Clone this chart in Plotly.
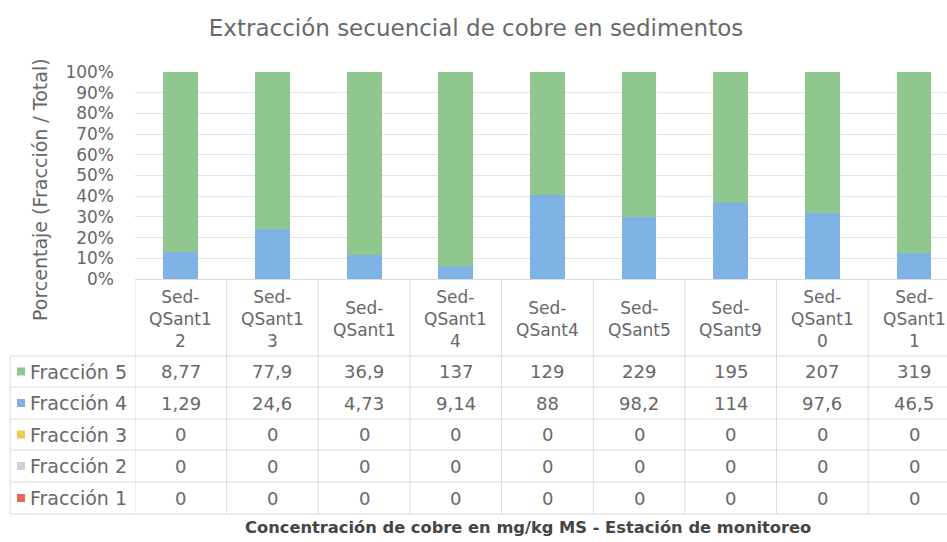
import plotly.graph_objects as go

# ---------------- data ----------------
categories = ["Sed-QSant12", "Sed-QSant13", "Sed-QSant1", "Sed-QSant14", "Sed-QSant4",
              "Sed-QSant5", "Sed-QSant9", "Sed-QSant10", "Sed-QSant11"]
fraccion_5 = [8.77, 77.9, 36.9, 137, 129, 229, 195, 207, 319]
fraccion_4 = [1.29, 24.6, 4.73, 9.14, 88, 98.2, 114, 97.6, 46.5]
fraccion_3 = [0, 0, 0, 0, 0, 0, 0, 0, 0]
fraccion_2 = [0, 0, 0, 0, 0, 0, 0, 0, 0]
fraccion_1 = [0, 0, 0, 0, 0, 0, 0, 0, 0]
series_names = ["Fracción 5", "Fracción 4", "Fracción 3", "Fracción 2", "Fracción 1"]
y_ticks = [0, 10, 20, 30, 40, 50, 60, 70, 80, 90, 100]
y_tick_labels = ["0%", "10%", "20%", "30%", "40%", "50%", "60%", "70%", "80%", "90%", "100%"]

title_text = "Extracción secuencial de cobre en sedimentos"
y_title = "Porcentaje (Fracción / Total)"
x_title = "Concentración de cobre en mg/kg MS - Estación de monitoreo"

# ---------------- styling ----------------
colors = {"Fracción 5": "#8fc78e", "Fracción 4": "#7fb3e6", "Fracción 3": "#f2c94c",
          "Fracción 2": "#cfcfcf", "Fracción 1": "#e8675c"}
FONT = "DejaVu Sans"
TXT = "#686868"
LINE = "#dcdcdc"

W, H = 947, 542
L, T, B = 135, 72, 279
PW, PH = W - L, B - T


def px2x(px):
    return (px - L) / PW


def py2y(py):
    return (B - py) / PH


def fmt(v):
    return f"{v:g}".replace(".", ",")


def wrap(label):
    head, rest = label.split("-", 1)
    parts = [head + "-", rest[:6]]
    if rest[6:]:
        parts.append(rest[6:])
    return "<br>".join(parts)


series = {"Fracción 5": fraccion_5, "Fracción 4": fraccion_4, "Fracción 3": fraccion_3,
          "Fracción 2": fraccion_2, "Fracción 1": fraccion_1}

fig = go.Figure()
x_idx = list(range(len(categories)))
for name in reversed(series_names):
    fig.add_trace(go.Bar(x=x_idx, y=series[name], name=name, width=0.38,
                         marker=dict(color=colors[name], line=dict(width=0)),
                         showlegend=False))

shapes = []
annotations = []

# table geometry (pixels)
header_bottom = 356
row_lines = [387, 419, 450, 482, 514]
row_centers = [371.5, 403, 434.5, 466, 498]

for yy in [header_bottom] + row_lines:
    shapes.append(dict(type="line", xref="paper", yref="paper", x0=px2x(10), x1=px2x(W),
                       y0=py2y(yy), y1=py2y(yy), line=dict(color=LINE, width=1)))
for i in range(len(categories) + 1):
    shapes.append(dict(type="line", xref="x", yref="paper", x0=i - 0.5, x1=i - 0.5,
                       y0=py2y(B), y1=py2y(row_lines[-1]), line=dict(color=LINE, width=1)))
shapes.append(dict(type="line", xref="paper", yref="paper", x0=px2x(10), x1=px2x(10),
                   y0=py2y(header_bottom), y1=py2y(row_lines[-1]),
                   line=dict(color=LINE, width=1)))

for i, c in enumerate(categories):
    annotations.append(dict(x=i, y=py2y(319), xref="x", yref="paper", text=wrap(c),
                            showarrow=False, xanchor="center", yanchor="middle",
                            font=dict(family=FONT, size=17, color=TXT)))

for r, name in enumerate(series_names):
    yc = py2y(row_centers[r])
    shapes.append(dict(type="rect", xref="paper", yref="paper",
                       x0=px2x(17), x1=px2x(25), y0=yc - 4 / PH, y1=yc + 4 / PH,
                       fillcolor=colors[name], line=dict(width=0)))
    annotations.append(dict(x=px2x(28), y=yc, xref="paper", yref="paper", text=name,
                            showarrow=False, xanchor="left", yanchor="middle",
                            font=dict(family=FONT, size=19, color=TXT)))
    for i, v in enumerate(series[name]):
        annotations.append(dict(x=i, y=yc, xref="x", yref="paper", text=fmt(v),
                                showarrow=False, xanchor="center", yanchor="middle",
                                font=dict(family=FONT, size=18, color=TXT)))

annotations.append(dict(x=px2x(40), y=py2y(190), xref="paper", yref="paper", text=y_title,
                        textangle=-90, showarrow=False, xanchor="center", yanchor="middle",
                        font=dict(family=FONT, size=19, color=TXT)))
annotations.append(dict(x=px2x(528), y=py2y(527), xref="paper", yref="paper", text=x_title,
                        showarrow=False, xanchor="center", yanchor="middle",
                        font=dict(family=FONT, size=16.3, color="#454545", weight="bold")))

fig.update_layout(
    width=W, height=H,
    margin=dict(l=L, r=0, t=T, b=H - B, pad=0),
    paper_bgcolor="white", plot_bgcolor="white",
    barmode="stack", barnorm="percent",
    title=dict(text=title_text, x=px2x(476), xref="paper", xanchor="center",
               y=1 - 28 / H, yref="container", yanchor="middle",
               font=dict(family=FONT, size=23, color="#666a6c")),
    shapes=shapes, annotations=annotations,
    xaxis=dict(range=[-0.5, (W - L) / (PW / 8.86) - 0.5], showticklabels=False,
               showgrid=False, zeroline=False, showline=True, linecolor=LINE,
               fixedrange=True),
    yaxis=dict(range=[0, 100], tickvals=y_ticks, ticktext=y_tick_labels, showgrid=True,
               gridcolor="#e3e3e3", zeroline=False, showline=False,
               ticklabelstandoff=20, fixedrange=True,
               tickfont=dict(family=FONT, size=17, color=TXT)),
)

fig.write_html("out.html", config={"displayModeBar": False},
               post_script="document.body.style.margin='0px';")
